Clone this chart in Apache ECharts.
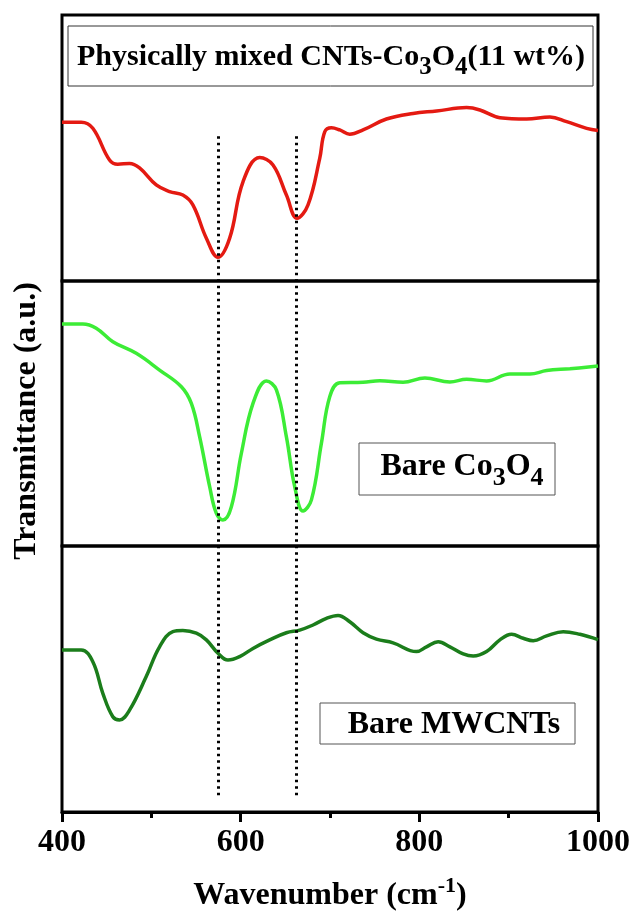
<!DOCTYPE html>
<html>
<head>
<meta charset="utf-8">
<script src="https://cdn.jsdelivr.net/npm/echarts@6/dist/echarts.min.js"></script>
<style>
html,body{margin:0;padding:0;background:#fff;}
#chart{width:634px;height:921px;}
</style>
</head>
<body>
<div id="chart"></div>
<script>
// ---- Data ----
const xTicks = [400, 600, 800, 1000];
const peakLines = [575, 662];

// Top panel: Physically mixed CNTs-Co3O4 (red)
const mixedWavenumber = [400, 421.5, 434.5, 453.2, 462.5, 475.6, 486.8, 505.5, 520.4, 535.3, 546.5, 561.6, 574.6, 587.7, 602.6, 621.3, 636.2, 651.2, 663.1, 675.4, 688.5, 694.1, 701.6, 710.9, 722.1, 737.0, 763.2, 793.0, 819.3, 852.9, 867.8, 890.2, 920.1, 946.2, 964.9, 987.3, 1000];
const mixedTrans = [59.7, 59.7, 57.4, 45.5, 43.9, 44.2, 42.5, 36.1, 33.6, 32.3, 28.6, 16.1, 8.9, 16.1, 37.3, 46.4, 43.6, 32.3, 23.6, 28.6, 46.1, 56.1, 57.6, 56.8, 55.2, 56.8, 60.9, 63.0, 63.9, 65.2, 64.3, 61.4, 60.9, 61.7, 59.9, 57.4, 56.6];

// Middle panel: Bare Co3O4 (light green)
const co3o4Wavenumber = [400, 423.3, 438.3, 456.9, 483.1, 509.2, 533.6, 544.8, 554.1, 565.3, 572.8, 580.2, 589.6, 600.8, 613.8, 628.8, 640.0, 651.2, 660.5, 669.8, 679.2, 690.4, 699.7, 710.9, 737.0, 755.7, 781.8, 806.2, 834.2, 852.9, 875.3, 901.4, 923.8, 942.5, 968.6, 1000];
const co3o4Trans = [83.8, 83.8, 82.2, 77.1, 72.7, 66.4, 60.1, 53.8, 41.2, 22.4, 12.3, 9.8, 14.8, 35.0, 53.8, 62.3, 58.9, 41.2, 22.4, 13.2, 17.4, 38.8, 56.3, 61.6, 61.8, 62.4, 61.8, 63.4, 61.9, 62.9, 62.3, 64.9, 64.9, 66.2, 66.9, 67.9];

// Bottom panel: Bare MWCNTs (dark green)
const mwcntWavenumber = [400, 421.5, 434.5, 445.7, 456.9, 464.4, 475.6, 494.3, 509.2, 524.1, 535.3, 550.4, 561.6, 574.6, 585.8, 598.9, 613.8, 632.5, 651.2, 666.1, 681.0, 696.0, 709.0, 722.1, 737.0, 752.0, 770.6, 796.8, 808.0, 821.1, 834.2, 849.1, 860.3, 875.3, 890.2, 903.3, 916.3, 927.5, 942.5, 961.1, 979.8, 1000];
const mwcntTrans = [60.9, 60.9, 56.5, 44.6, 35.8, 34.6, 38.3, 50.9, 62.1, 67.8, 68.2, 67.2, 64.7, 59.7, 57.1, 58.4, 61.5, 64.7, 67.4, 68.4, 70.3, 72.8, 73.9, 71.5, 67.4, 65.0, 63.6, 60.3, 62.1, 64.0, 62.1, 59.4, 58.6, 60.3, 64.7, 66.8, 65.3, 64.4, 66.2, 67.8, 66.8, 64.8];

const zip = (xs, ys) => xs.map((x, i) => [x, ys[i]]);

const FONT = '"Liberation Serif", "Times New Roman", serif';
const chart = echarts.init(document.getElementById('chart'), null, {renderer: 'canvas'});

const panelTops = [15, 281, 546];
const panelHeights = [266, 265, 266];
const grids = panelTops.map((t, i) => ({
  left: 62, right: 36, top: t, height: panelHeights[i],
  show: true, borderColor: '#000', borderWidth: 3, backgroundColor: 'transparent'
}));
grids.push({left: 62, right: 36, top: 15, height: 797, show: false});

const hiddenX = (gi) => ({gridIndex: gi, type: 'value', min: 400, max: 1000, show: false});
const hiddenY = (gi) => ({gridIndex: gi, type: 'value', min: 0, max: 100, show: false});

const option = {
  backgroundColor: '#fff',
  animation: false,
  grid: grids,
  xAxis: [
    hiddenX(0), hiddenX(1),
    {
      gridIndex: 2, type: 'value', min: 400, max: 1000, interval: 200,
      axisLine: {show: true, lineStyle: {color: '#000', width: 3}},
      axisTick: {show: true, inside: false, length: 10, lineStyle: {color: '#000', width: 3}},
      minorTick: {show: true, splitNumber: 2, length: 6, lineStyle: {color: '#000', width: 3}},
      splitLine: {show: false}, minorSplitLine: {show: false},
      axisLabel: {fontSize: 32, fontWeight: 'bold', fontFamily: FONT, color: '#000', margin: 15,
        formatter: (v) => xTicks.includes(v) ? String(v) : ''}
    },
    hiddenX(3)
  ],
  yAxis: [hiddenY(0), hiddenY(1), hiddenY(2), hiddenY(3)],
  series: [
    {type: 'line', xAxisIndex: 0, yAxisIndex: 0, data: zip(mixedWavenumber, mixedTrans), smooth: 0.4, showSymbol: false,
      lineStyle: {color: '#e41a12', width: 3.5}},
    {type: 'line', xAxisIndex: 1, yAxisIndex: 1, data: zip(co3o4Wavenumber, co3o4Trans), smooth: 0.4, showSymbol: false,
      lineStyle: {color: '#3cec36', width: 3.5}},
    {type: 'line', xAxisIndex: 2, yAxisIndex: 2, data: zip(mwcntWavenumber, mwcntTrans), smooth: 0.4, showSymbol: false,
      lineStyle: {color: '#1b7d1b', width: 3.5}},
    {type: 'line', xAxisIndex: 3, yAxisIndex: 3, data: [], silent: true,
      markLine: {
        symbol: ['none', 'none'], silent: true, label: {show: false},
        lineStyle: {color: '#000', width: 3, type: [2.5, 4]},
        data: peakLines.map(w => [{coord: [w, 84.8]}, {coord: [w, 1.8]}])
      }
    }
  ],
  graphic: [
    {type: 'rect', shape: {x: 68, y: 26, width: 525, height: 60}, style: {fill: '#fff', stroke: '#333', lineWidth: 1}, z: 10},
    {type: 'text', x: 331, y: 57, z: 11, style: {
      text: '{b|Physically mixed CNTs-Co}{s|3}{b|O}{s|4}{b|(11 wt%)}',
      align: 'center', verticalAlign: 'middle', textAlign: 'center', textVerticalAlign: 'middle',
      rich: {
        b: {fontSize: 30, fontWeight: 'bold', fontFamily: FONT, fill: '#000'},
        s: {fontSize: 25, fontWeight: 'bold', fontFamily: FONT, fill: '#000', padding: [22, 0, 0, 0]}
      }}},
    {type: 'rect', shape: {x: 359, y: 443, width: 196, height: 52}, style: {fill: '#fff', stroke: '#555', lineWidth: 1}, z: 10},
    {type: 'text', x: 462, y: 467, z: 11, style: {
      text: '{b|Bare Co}{s|3}{b|O}{s|4}',
      align: 'center', verticalAlign: 'middle', textAlign: 'center', textVerticalAlign: 'middle',
      rich: {
        b: {fontSize: 32, fontWeight: 'bold', fontFamily: FONT, fill: '#000'},
        s: {fontSize: 26, fontWeight: 'bold', fontFamily: FONT, fill: '#000', padding: [22, 0, 0, 0]}
      }}},
    {type: 'rect', shape: {x: 320, y: 703, width: 255, height: 41}, style: {fill: '#fff', stroke: '#555', lineWidth: 1}, z: 10},
    {type: 'text', x: 454, y: 725, z: 11, style: {
      text: 'Bare MWCNTs', font: 'bold 32px ' + FONT, fill: '#000',
      align: 'center', verticalAlign: 'middle', textAlign: 'center', textVerticalAlign: 'middle'}},
    {type: 'text', x: 27, y: 421, rotation: Math.PI / 2, z: 11, style: {
      text: 'Transmittance (a.u.)', font: 'bold 32px ' + FONT, fill: '#000',
      align: 'center', verticalAlign: 'middle', textAlign: 'center', textVerticalAlign: 'middle'}},
    {type: 'text', x: 330, y: 896, z: 11, style: {
      text: '{b|Wavenumber (cm}{p|-1}{b|)}',
      align: 'center', verticalAlign: 'middle', textAlign: 'center', textVerticalAlign: 'middle',
      rich: {
        b: {fontSize: 32, fontWeight: 'bold', fontFamily: FONT, fill: '#000'},
        p: {fontSize: 22, fontWeight: 'bold', fontFamily: FONT, fill: '#000', padding: [0, 0, 20, 0]}
      }}}
  ]
};
chart.setOption(option);
</script>
</body>
</html>
